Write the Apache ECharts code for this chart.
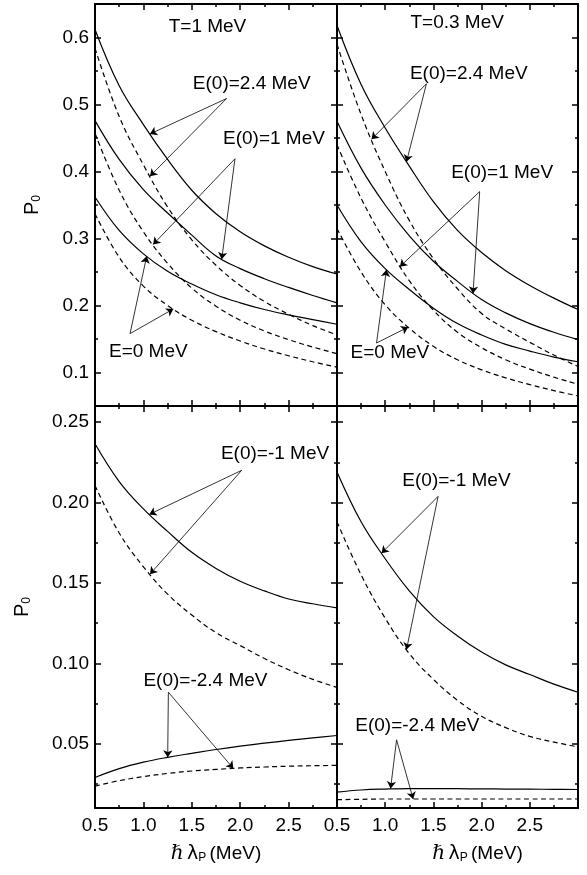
<!DOCTYPE html>
<html><head><meta charset="utf-8">
<script src="https://cdn.jsdelivr.net/npm/echarts@6/dist/echarts.min.js"></script>
<style>html,body{margin:0;padding:0;background:#fff}#c{width:587px;height:875px}</style>
</head><body><div id="c"></div>
<script>
// ---- data ----
const xValues = [0.5, 0.75, 1.0, 1.25, 1.5, 1.75, 2.0, 2.25, 2.5, 2.75, 3.0];

// T = 1 MeV, top-left
const tl_E24_full = [0.612, 0.528, 0.470, 0.418, 0.372, 0.337, 0.310, 0.289, 0.272, 0.258, 0.247];
const tl_E1_full  = [0.476, 0.418, 0.373, 0.338, 0.305, 0.274, 0.255, 0.240, 0.227, 0.215, 0.204];
const tl_E0_full  = [0.362, 0.312, 0.277, 0.251, 0.232, 0.216, 0.204, 0.194, 0.186, 0.179, 0.172];
const tl_E24_dash = [0.584, 0.482, 0.410, 0.347, 0.298, 0.260, 0.230, 0.206, 0.187, 0.170, 0.156];
const tl_E1_dash  = [0.457, 0.372, 0.310, 0.263, 0.226, 0.199, 0.178, 0.162, 0.149, 0.138, 0.128];
const tl_E0_dash  = [0.337, 0.272, 0.229, 0.200, 0.178, 0.161, 0.147, 0.135, 0.125, 0.116, 0.108];

// T = 0.3 MeV, top-right
const tr_E24_full = [0.618, 0.530, 0.465, 0.408, 0.355, 0.312, 0.279, 0.252, 0.230, 0.211, 0.194];
const tr_E1_full  = [0.475, 0.405, 0.350, 0.304, 0.266, 0.236, 0.209, 0.189, 0.173, 0.160, 0.149];
const tr_E0_full  = [0.350, 0.295, 0.255, 0.224, 0.196, 0.173, 0.156, 0.142, 0.132, 0.123, 0.116];
const tr_E24_dash = [0.590, 0.485, 0.400, 0.327, 0.270, 0.225, 0.188, 0.165, 0.145, 0.126, 0.109];
const tr_E1_dash  = [0.440, 0.360, 0.295, 0.237, 0.193, 0.160, 0.137, 0.119, 0.105, 0.093, 0.0825];
const tr_E0_dash  = [0.315, 0.250, 0.201, 0.166, 0.139, 0.119, 0.104, 0.092, 0.082, 0.073, 0.065];

// T = 1 MeV, bottom-left
const bl_Em1_full  = [0.2365, 0.213, 0.196, 0.182, 0.169, 0.159, 0.151, 0.145, 0.140, 0.137, 0.1345];
const bl_Em1_dash  = [0.2106, 0.181, 0.160, 0.143, 0.130, 0.119, 0.111, 0.103, 0.096, 0.090, 0.085];
const bl_Em24_full = [0.029, 0.0345, 0.0385, 0.0415, 0.044, 0.0464, 0.0485, 0.0503, 0.052, 0.0536, 0.0551];
const bl_Em24_dash = [0.0236, 0.027, 0.0295, 0.0315, 0.033, 0.034, 0.0349, 0.0355, 0.036, 0.0363, 0.0365];

// T = 0.3 MeV, bottom-right
const br_Em1_full  = [0.219, 0.188, 0.165, 0.145, 0.129, 0.117, 0.107, 0.099, 0.093, 0.087, 0.082];
const br_Em1_dash  = [0.188, 0.155, 0.128, 0.106, 0.090, 0.077, 0.067, 0.060, 0.0545, 0.051, 0.048];
const br_Em24_full = [0.0199, 0.0212, 0.0218, 0.0221, 0.0221, 0.0220, 0.0219, 0.0218, 0.0217, 0.0216, 0.0215];
const br_Em24_dash = [0.0152, 0.0154, 0.0156, 0.0156, 0.0156, 0.0156, 0.0156, 0.0156, 0.0156, 0.0156, 0.0156];

// tick values
const topYMajor = [0.1, 0.2, 0.3, 0.4, 0.5, 0.6];
const topYMinor = [0.15, 0.25, 0.35, 0.45, 0.55];
const botYMajor = [0.05, 0.10, 0.15, 0.20, 0.25];
const botYMinor = [0.025, 0.075, 0.125, 0.175, 0.225];

// annotations (data coordinates)
const tlLabels = [['T=1 MeV', 1.662, 0.616], ['E(0)=2.4 MeV', 2.119, 0.531], ['E(0)=1 MeV', 2.349, 0.449], ['E=0 MeV', 1.051, 0.1308]];
const tlArrows = [[1.86, 0.509, 1.068, 0.456], [1.86, 0.509, 1.068, 0.393], [1.946, 0.419, 1.809, 0.269], [1.946, 0.419, 1.10, 0.291], [0.862, 0.158, 1.034, 0.2735], [0.862, 0.158, 1.309, 0.1948]];
const trLabels = [['T=0.3 MeV', 1.747, 0.622], ['E(0)=2.4 MeV', 1.867, 0.546], ['E(0)=1 MeV', 2.213, 0.398], ['E=0 MeV', 1.049, 0.1296]];
const trArrows = [[1.428, 0.531, 1.221, 0.4146], [1.428, 0.531, 0.858, 0.448], [1.98, 0.370, 1.911, 0.218], [1.98, 0.370, 1.152, 0.258], [0.91, 0.144, 1.013, 0.2534], [0.91, 0.144, 1.238, 0.1677]];
const blLabels = [['E(0)=-1 MeV', 2.36, 0.2303], ['E(0)=-2.4 MeV', 1.641, 0.0893]];
const blArrows = [[2.015, 0.22, 1.061, 0.1926], [2.015, 0.22, 1.068, 0.1554], [1.258, 0.082, 1.251, 0.0415], [1.258, 0.082, 1.929, 0.0346]];
const brLabels = [['E(0)=-1 MeV', 1.739, 0.2137], ['E(0)=-2.4 MeV', 1.333, 0.0614]];
const brArrows = [[1.549, 0.2038, 0.962, 0.1685], [1.549, 0.2038, 1.221, 0.1085], [1.118, 0.0524, 1.056, 0.0222], [1.118, 0.0524, 1.29, 0.0156]];

// ---- chart ----
const FONT = '"Liberation Sans", Arial, Helvetica, sans-serif';
const BLACK = '#000';
const FS = 19;
const chart = echarts.init(document.getElementById('c'), null, { renderer: 'canvas' });

const panels = [
  { grid: { left: 95, top: 4, width: 242, height: 402 }, yMin: 0.05, yMax: 0.65, major: topYMajor, minor: topYMinor, dec: 1, showY: true, showX: false, nameGap: 52,
    solid: [tl_E24_full, tl_E1_full, tl_E0_full], dashed: [tl_E24_dash, tl_E1_dash, tl_E0_dash], labels: tlLabels, arrows: tlArrows },
  { grid: { left: 337, top: 4, width: 241, height: 402 }, yMin: 0.05, yMax: 0.65, major: topYMajor, minor: topYMinor, dec: 1, showY: false, showX: false,
    solid: [tr_E24_full, tr_E1_full, tr_E0_full], dashed: [tr_E24_dash, tr_E1_dash, tr_E0_dash], labels: trLabels, arrows: trArrows },
  { grid: { left: 95, top: 406, width: 242, height: 402 }, yMin: 0.01, yMax: 0.26, major: botYMajor, minor: botYMinor, dec: 2, showY: true, showX: true, nameGap: 62, xShift: 0,
    solid: [bl_Em1_full, bl_Em24_full], dashed: [bl_Em1_dash, bl_Em24_dash], labels: blLabels, arrows: blArrows },
  { grid: { left: 337, top: 406, width: 241, height: 402 }, yMin: 0.01, yMax: 0.26, major: botYMajor, minor: botYMinor, dec: 2, showY: false, showX: true, xShift: 40,
    solid: [br_Em1_full, br_Em24_full], dashed: [br_Em1_dash, br_Em24_dash], labels: brLabels, arrows: brArrows }
];

const grid = [], xAxis = [], yAxis = [], series = [];
const lineAxis = { show: true, onZero: false, lineStyle: { color: BLACK, width: 2 } };
const tickStyle = { color: BLACK, width: 1.5 };

panels.forEach((p, i) => {
  grid.push(Object.assign({ outerBoundsMode: 'none', containLabel: false }, p.grid));
  ['bottom', 'top'].forEach(pos => {
    const isBottom = pos === 'bottom';
    xAxis.push({
      gridIndex: i, type: 'value', position: pos, min: 0.5, max: 3, interval: 0.5,
      axisLine: lineAxis,
      axisTick: { show: true, inside: true, length: 6, lineStyle: tickStyle },
      minorTick: { show: true, splitNumber: 2, length: 3, lineStyle: tickStyle },
      splitLine: { show: false }, minorSplitLine: { show: false },
      axisLabel: { show: isBottom && p.showX, color: BLACK, fontSize: FS, fontFamily: FONT, margin: 8,
        formatter: v => (Math.abs(v - 3) < 1e-9 ? '' : v.toFixed(1)) },
      name: (isBottom && p.showX) ? '{h|ℏ} {l|λ}{s|P} {n|(MeV)}' : '',
      nameLocation: 'middle', nameGap: 36,
      nameTextStyle: { color: BLACK, padding: [0, 0, 0, p.xShift || 0],
        rich: {
          h: { fontSize: 20, fontFamily: '"DejaVu Serif", serif', fontStyle: 'italic', color: BLACK },
          l: { fontSize: 19, fontFamily: '"DejaVu Sans", sans-serif', color: BLACK },
          s: { fontSize: 12, fontFamily: FONT, color: BLACK, padding: [8, 0, 0, 0] },
          n: { fontSize: FS, fontFamily: FONT, color: BLACK }
        } }
    });
  });
  ['left', 'right'].forEach(pos => {
    const isLeft = pos === 'left';
    yAxis.push({
      gridIndex: i, type: 'value', position: pos, min: p.yMin, max: p.yMax,
      axisLine: lineAxis,
      axisTick: { show: true, inside: true, length: 6, lineStyle: tickStyle, customValues: p.major },
      splitLine: { show: false },
      axisLabel: { show: isLeft && p.showY, customValues: p.major, color: BLACK, fontSize: FS, fontFamily: FONT, margin: 6,
        formatter: v => v.toFixed(p.dec) },
      name: (isLeft && p.showY) ? '{a|P}{b|0}' : '',
      nameLocation: 'middle', nameRotate: 90, nameGap: p.nameGap || 50,
      nameTextStyle: { color: BLACK, rich: {
        a: { fontSize: 20, fontFamily: FONT, color: BLACK },
        b: { fontSize: 12, fontFamily: FONT, color: BLACK, padding: [9, 0, 0, 0] }
      } }
    });
    yAxis.push({
      gridIndex: i, type: 'value', position: pos, min: p.yMin, max: p.yMax,
      axisLine: { show: false },
      axisTick: { show: true, inside: true, length: 3, lineStyle: tickStyle, customValues: p.minor },
      splitLine: { show: false },
      axisLabel: { show: false }
    });
  });

  const xi = 2 * i, yi = 4 * i;
  const mk = (arr, dashed) => ({
    type: 'line', xAxisIndex: xi, yAxisIndex: yi,
    data: xValues.map((x, k) => [x, arr[k]]),
    smooth: 0.4, showSymbol: false, symbol: 'none', silent: true,
    lineStyle: { color: BLACK, width: 1.2, type: dashed ? [5, 3.5] : 'solid' },
    z: 3
  });
  p.solid.forEach(arr => series.push(mk(arr, false)));
  p.dashed.forEach(arr => series.push(mk(arr, true)));
  // annotation carrier
  series.push({
    type: 'line', xAxisIndex: xi, yAxisIndex: yi, data: [], silent: true, z: 5,
    markPoint: {
      symbol: 'rect', symbolSize: 1, silent: true, itemStyle: { color: 'rgba(0,0,0,0)' },
      label: { show: true, position: 'inside', color: BLACK, fontSize: FS, fontFamily: FONT, formatter: d => d.name },
      data: p.labels.map(l => ({ name: l[0], coord: [l[1], l[2]] }))
    },
    markLine: {
      silent: true, symbol: ['none', 'arrow'], symbolSize: 7, precision: 4,
      lineStyle: { color: BLACK, width: 0.8, type: 'solid' },
      label: { show: false },
      emphasis: { disabled: true },
      data: p.arrows.map(a => [{ coord: [a[0], a[1]] }, { coord: [a[2], a[3]] }])
    }
  });
});

chart.setOption({
  animation: false,
  backgroundColor: '#fff',
  grid, xAxis, yAxis, series
});
</script>
</body></html>
